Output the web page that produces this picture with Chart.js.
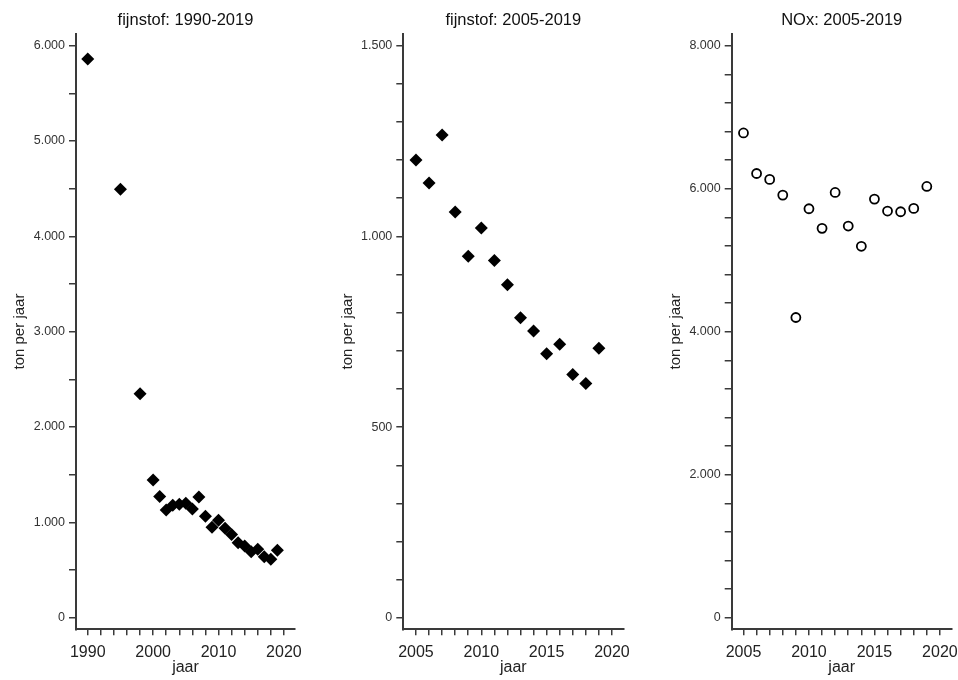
<!DOCTYPE html>
<html>
<head>
<meta charset="utf-8">
<script src="https://cdn.jsdelivr.net/npm/chart.js@4/dist/chart.umd.min.js"></script>
<style>
  body { margin: 0; background: #fff; }
  .panel { position: absolute; top: 0; height: 680px; }
</style>
</head>
<body>
<div class="panel" style="left:0;width:320px"><canvas id="c1"></canvas></div>
<div class="panel" style="left:320px;width:320px"><canvas id="c2"></canvas></div>
<div class="panel" style="left:640px;width:318px"><canvas id="c3"></canvas></div>
<script>
// fijnstof 1990-2019 (ton per jaar)
const yearsLong = [1990, 1995, 1998, 2000, 2001, 2002, 2003, 2004, 2005, 2006, 2007, 2008, 2009, 2010, 2011, 2012, 2013, 2014, 2015, 2016, 2017, 2018, 2019]
const pmLong = [5860, 4495, 2350, 1445, 1270, 1130, 1180, 1190, 1200, 1140, 1266, 1064, 948, 1022, 937, 873, 787, 752, 692, 717, 638, 614, 707]
// fijnstof 2005-2019
const yearsShort = [2005, 2006, 2007, 2008, 2009, 2010, 2011, 2012, 2013, 2014, 2015, 2016, 2017, 2018, 2019]
const pmShort = [1200, 1140, 1266, 1064, 948, 1022, 937, 873, 787, 752, 692, 717, 638, 614, 707]
// NOx 2005-2019
const noxValues = [6780, 6213, 6130, 5911, 4199, 5720, 5446, 5948, 5478, 5195, 5855, 5688, 5678, 5725, 6032]

// tick positions (major ones get labels)
const xTicksLong = [1990, 1992, 1994, 1996, 1998, 2000, 2002, 2004, 2006, 2008, 2010, 2012, 2014, 2016, 2018, 2020]
const xMajorLong = [1990, 2000, 2010, 2020]
const xTicksShort = [2005, 2006, 2007, 2008, 2009, 2010, 2011, 2012, 2013, 2014, 2015, 2016, 2017, 2018, 2019, 2020]
const xMajorShort = [2005, 2010, 2015, 2020]
const yTicks1 = [0, 500, 1000, 1500, 2000, 2500, 3000, 3500, 4000, 4500, 5000, 5500, 6000]
const yMajor1 = [0, 1000, 2000, 3000, 4000, 5000, 6000]
const yTicks2 = [0, 100, 200, 300, 400, 500, 600, 700, 800, 900, 1000, 1100, 1200, 1300, 1400, 1500]
const yMajor2 = [0, 500, 1000, 1500]
const yTicks3 = [0, 400, 800, 1200, 1600, 2000, 2400, 2800, 3200, 3600, 4000, 4400, 4800, 5200, 5600, 6000, 6400, 6800, 7200, 7600, 8000]
const yMajor3 = [0, 2000, 4000, 6000, 8000]

const FONT = "'Liberation Sans', Arial, sans-serif"
const AXIS = '#3a3a3a'

function fmt(v) {
    return v.toLocaleString('de-DE')
}

function makeChart(id, cfg) {
    const points = cfg.x.map((x, i) => ({x: x, y: cfg.y[i]}))
    return new Chart(document.getElementById(id), {
        type: 'scatter',
        data: {
            datasets: [{
                data: points,
                pointStyle: cfg.style,
                pointRadius: cfg.radius,
                pointHoverRadius: cfg.radius,
                backgroundColor: cfg.fill,
                borderColor: '#000',
                borderWidth: cfg.border
            }]
        },
        options: {
            responsive: true,
            maintainAspectRatio: false,
            animation: false,
            layout: {padding: {left: cfg.padLeft, right: cfg.padRight, top: 0, bottom: 0}},
            plugins: {
                legend: {display: false},
                tooltip: {enabled: false},
                title: {
                    display: true,
                    text: cfg.title,
                    fullSize: false,
                    color: '#111',
                    font: {family: FONT, size: 16.5, weight: 'normal'},
                    padding: {top: 11, bottom: 3}
                }
            },
            scales: {
                x: {
                    type: 'linear',
                    min: cfg.xmin,
                    max: cfg.xmax,
                    afterBuildTicks: s => { s.ticks = cfg.xTicks.map(v => ({value: v})) },
                    afterFit: s => {
                        s.height = 50.7
                        // let the layout padding alone decide the side margins
                        s.paddingLeft = 0
                        s.paddingRight = 0
                    },
                    border: {display: true, color: AXIS, width: 2},
                    grid: {drawOnChartArea: false, drawTicks: true, tickLength: 6, color: AXIS, lineWidth: 1.5},
                    ticks: {
                        autoSkip: false,
                        maxRotation: 0,
                        padding: 8,
                        color: '#222',
                        font: {family: FONT, size: 16},
                        callback: v => cfg.xMajor.includes(v) ? String(v) : ''
                    },
                    title: {
                        display: true, text: 'jaar', color: '#222',
                        font: {family: FONT, size: 16}, padding: {top: 0, bottom: 3}
                    }
                },
                y: {
                    type: 'linear',
                    min: cfg.ymin,
                    max: cfg.ymax,
                    afterBuildTicks: s => { s.ticks = cfg.yTicks.map(v => ({value: v})) },
                    afterFit: s => { s.width = cfg.yWidth },
                    border: {display: true, color: AXIS, width: 2},
                    grid: {drawOnChartArea: false, drawTicks: true, tickLength: 7, color: AXIS, lineWidth: 1.5},
                    ticks: {
                        autoSkip: false,
                        padding: 4,
                        color: '#333',
                        font: {family: FONT, size: 12.5},
                        callback: v => cfg.yMajor.includes(v) ? fmt(v) : ''
                    },
                    title: {
                        display: true, text: 'ton per jaar', color: '#222',
                        font: {family: FONT, size: 15}, padding: {top: 1, bottom: 0}
                    }
                }
            }
        }
    })
}

makeChart('c1', {
    title: 'fijnstof: 1990-2019', x: yearsLong, y: pmLong,
    style: 'rectRot', radius: 6.5, fill: '#000', border: 0,
    xmin: 1988.2, xmax: 2021.7, xTicks: xTicksLong, xMajor: xMajorLong,
    ymin: -122, ymax: 6125, yTicks: yTicks1, yMajor: yMajor1,
    padLeft: 10, padRight: 25, yWidth: 66
})
makeChart('c2', {
    title: 'fijnstof: 2005-2019', x: yearsShort, y: pmShort,
    style: 'rectRot', radius: 6.5, fill: '#000', border: 0,
    xmin: 2004.03, xmax: 2020.87, xTicks: xTicksShort, xMajor: xMajorShort,
    ymin: -30, ymax: 1531, yTicks: yTicks2, yMajor: yMajor2,
    padLeft: 18, padRight: 16.7, yWidth: 65.3
})
makeChart('c3', {
    title: 'NOx: 2005-2019', x: yearsShort, y: noxValues,
    style: 'circle', radius: 4.5, fill: '#fff', border: 1.8,
    xmin: 2004.1, xmax: 2020.9, xTicks: xTicksShort, xMajor: xMajorShort,
    ymin: -162, ymax: 8167, yTicks: yTicks3, yMajor: yMajor3,
    padLeft: 26, padRight: 6.3, yWidth: 65.7
})
</script>
</body>
</html>
